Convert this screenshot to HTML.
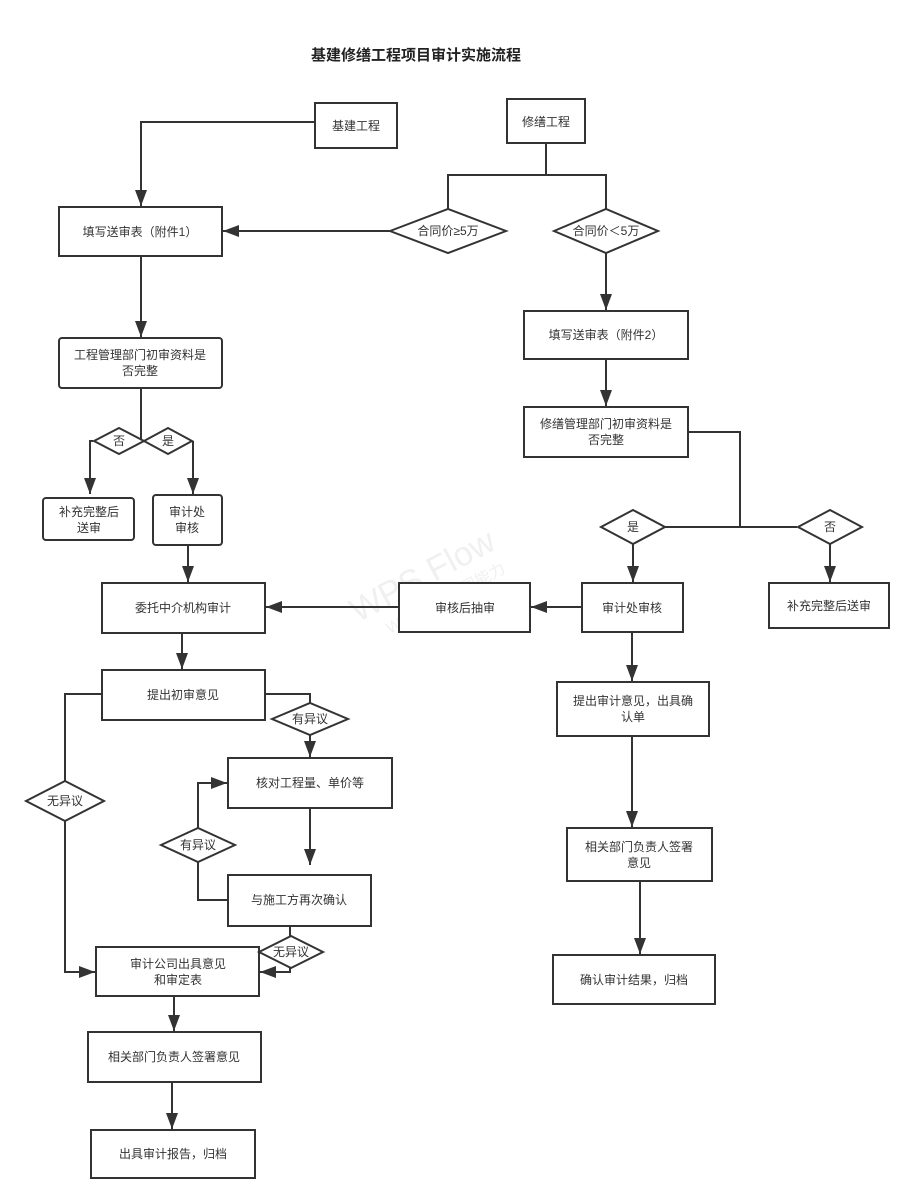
<!DOCTYPE html>
<html><head><meta charset="utf-8"><style>
html,body{margin:0;padding:0;background:#fff;}
svg{display:block;}
text{font-family:"Liberation Sans","Noto Sans CJK SC",sans-serif;font-size:12px;fill:#333;text-anchor:middle;}
.b{fill:#fff;stroke:#333;stroke-width:2;}
.l{fill:none;stroke:#333;stroke-width:2;}
</style></head><body>
<svg width="913" height="1202" viewBox="0 0 913 1202" xmlns="http://www.w3.org/2000/svg">
<defs><marker id="a" viewBox="0 0 16 12" refX="16" refY="6" markerWidth="16" markerHeight="12" markerUnits="userSpaceOnUse" orient="auto"><path d="M0,0 L16,6 L0,12 z" fill="#333"/></marker></defs>
<text x="416" y="60" style="font-size:15px;font-weight:bold;fill:#222">基建修缮工程项目审计实施流程</text>
<g transform="rotate(-28 430 590)" opacity="0.12"><text x="430" y="585" style="font-size:34px;fill:#888">WPS Flow</text><text x="440" y="610" style="font-size:16px;fill:#888">WPS提供作图能力</text></g>

<path class="l" d="M315,122 H141 V206" marker-end="url(#a)"/>
<path class="l" d="M546,143 V175 H448 V209 M546,175 H606 V209"/>
<path class="l" d="M390,231 H223" marker-end="url(#a)"/>
<path class="l" d="M606,253 V310" marker-end="url(#a)"/>
<path class="l" d="M141,256 V337" marker-end="url(#a)"/>
<path class="l" d="M141,388 V441"/>
<path class="l" d="M93,441 H90 V494" marker-end="url(#a)"/>
<path class="l" d="M193,441 V494" marker-end="url(#a)"/>
<path class="l" d="M188,545 V582" marker-end="url(#a)"/>
<path class="l" d="M606,359 V406" marker-end="url(#a)"/>
<path class="l" d="M688,432 H740 V527 M665,527 H797"/>
<path class="l" d="M633,544 V582" marker-end="url(#a)"/>
<path class="l" d="M830,544 V582" marker-end="url(#a)"/>
<path class="l" d="M582,607 H531" marker-end="url(#a)"/>
<path class="l" d="M399,607 H266" marker-end="url(#a)"/>
<path class="l" d="M182,633 V669" marker-end="url(#a)"/>
<path class="l" d="M632,632 V681" marker-end="url(#a)"/>
<path class="l" d="M632,736 V827" marker-end="url(#a)"/>
<path class="l" d="M640,881 V954" marker-end="url(#a)"/>
<path class="l" d="M265,694 H310 V703"/>
<path class="l" d="M310,735 V757" marker-end="url(#a)"/>
<path class="l" d="M102,694 H65 V781 M65,821 V972 H95" marker-end="url(#a)"/>
<path class="l" d="M310,808 V865" marker-end="url(#a)"/>
<path class="l" d="M228,900 H198 V862 M198,828 V783 H227" marker-end="url(#a)"/>
<path class="l" d="M290,926 V936"/>
<path class="l" d="M290,968 V972 H260" marker-end="url(#a)"/>
<path class="l" d="M174,996 V1031" marker-end="url(#a)"/>
<path class="l" d="M172,1082 V1129" marker-end="url(#a)"/>

<rect class="b" x="315" y="103" width="82" height="45"/><text x="356" y="130">基建工程</text>
<rect class="b" x="507" y="99" width="78" height="44"/><text x="546" y="126">修缮工程</text>
<rect class="b" x="59" y="207" width="163" height="49"/><text x="140" y="236">填写送审表（附件1）</text>
<path class="b" d="M390,231 L448,209 L506,231 L448,253 z"/><text x="448" y="235">合同价≥5万</text>
<path class="b" d="M554,231 L606,209 L658,231 L606,253 z"/><text x="606" y="235">合同价＜5万</text>
<rect class="b" x="59" y="338" width="163" height="50" rx="3"/><text x="140" y="359">工程管理部门初审资料是</text><text x="140" y="375">否完整</text>
<path class="b" d="M94,441 L119,428 L144,441 L119,454 z"/><text x="119" y="445">否</text>
<path class="b" d="M144,441 L168,428 L192,441 L168,454 z"/><text x="168" y="445">是</text>
<rect class="b" x="43" y="498" width="91" height="42" rx="3"/><text x="89" y="516">补充完整后</text><text x="89" y="532">送审</text>
<rect class="b" x="153" y="495" width="69" height="50" rx="3"/><text x="187" y="516">审计处</text><text x="187" y="532">审核</text>
<rect class="b" x="102" y="583" width="163" height="50"/><text x="183" y="612">委托中介机构审计</text>
<rect class="b" x="399" y="583" width="131" height="49"/><text x="465" y="612">审核后抽审</text>
<rect class="b" x="582" y="583" width="101" height="49"/><text x="632" y="612">审计处审核</text>
<rect class="b" x="524" y="311" width="164" height="48"/><text x="606" y="339">填写送审表（附件2）</text>
<rect class="b" x="524" y="407" width="164" height="50"/><text x="606" y="428">修缮管理部门初审资料是</text><text x="606" y="444">否完整</text>
<path class="b" d="M601,527 L633,510 L665,527 L633,544 z"/><text x="633" y="531">是</text>
<path class="b" d="M798,527 L830,510 L862,527 L830,544 z"/><text x="830" y="531">否</text>
<rect class="b" x="769" y="583" width="120" height="45"/><text x="829" y="610">补充完整后送审</text>
<rect class="b" x="102" y="670" width="163" height="50"/><text x="183" y="699">提出初审意见</text>
<path class="b" d="M272,719 L310,703 L348,719 L310,735 z"/><text x="310" y="723">有异议</text>
<rect class="b" x="228" y="758" width="164" height="50"/><text x="310" y="787">核对工程量、单价等</text>
<path class="b" d="M161,845 L198,828 L235,845 L198,862 z"/><text x="198" y="849">有异议</text>
<rect class="b" x="228" y="875" width="143" height="51"/><text x="299" y="904">与施工方再次确认</text>
<path class="b" d="M26,801 L65,781 L104,801 L65,821 z"/><text x="65" y="805">无异议</text>
<rect class="b" x="96" y="947" width="163" height="49"/><text x="178" y="968">审计公司出具意见</text><text x="178" y="984">和审定表</text>
<path class="b" d="M259,952 L291,936 L323,952 L291,968 z"/><text x="291" y="956">无异议</text>
<rect class="b" x="88" y="1032" width="173" height="50"/><text x="174" y="1061">相关部门负责人签署意见</text>
<rect class="b" x="91" y="1130" width="164" height="48"/><text x="173" y="1158">出具审计报告，归档</text>
<rect class="b" x="557" y="682" width="152" height="54"/><text x="633" y="705">提出审计意见，出具确</text><text x="633" y="721">认单</text>
<rect class="b" x="567" y="828" width="145" height="53"/><text x="639" y="851">相关部门负责人签署</text><text x="639" y="867">意见</text>
<rect class="b" x="553" y="955" width="162" height="49"/><text x="634" y="984">确认审计结果，归档</text>
</svg>
</body></html>
